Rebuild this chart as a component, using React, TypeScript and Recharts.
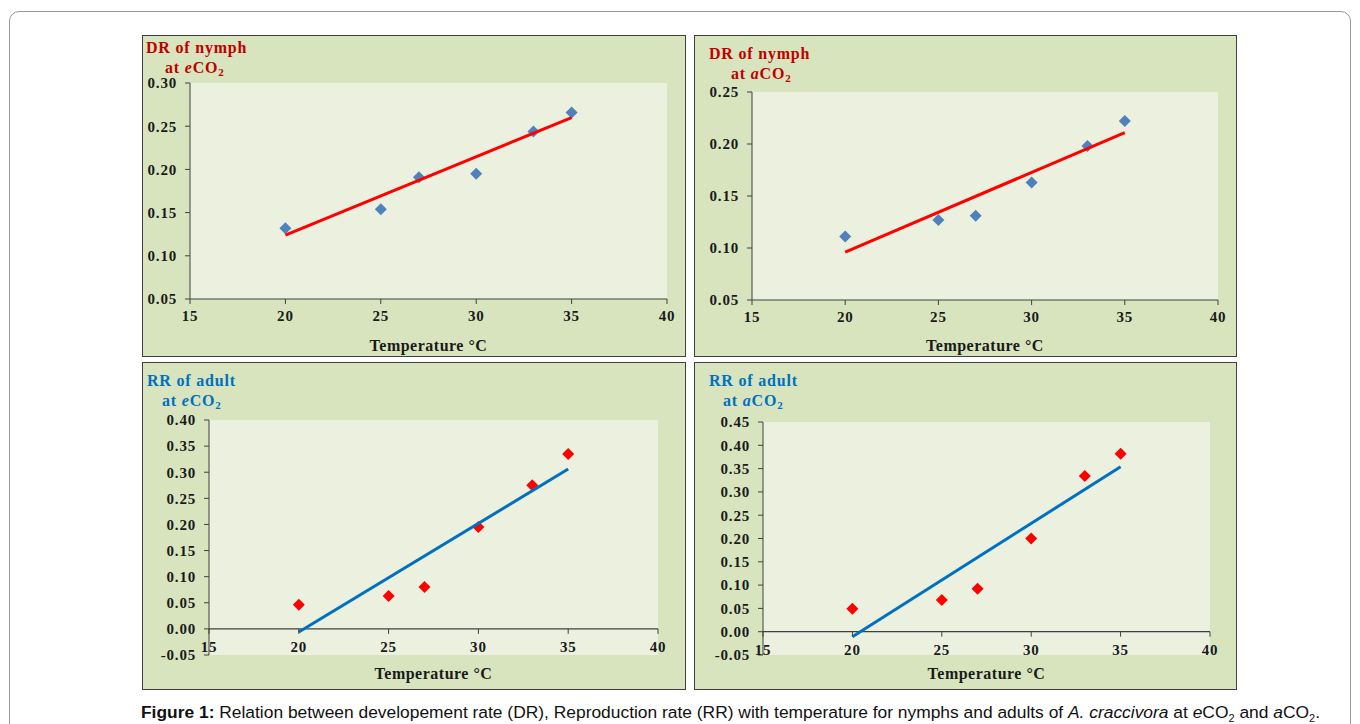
import { ScatterChart, Scatter, XAxis, YAxis, CartesianGrid, ReferenceLine } from 'recharts';

// temperatures (°C) where rates were measured
const temps = [20, 25, 27, 30, 33, 35];
const drElevated = [0.132, 0.154, 0.191, 0.195, 0.244, 0.266];
const drAmbient = [0.111, 0.127, 0.131, 0.163, 0.198, 0.222];
const rrElevated = [0.046, 0.063, 0.08, 0.195, 0.275, 0.335];
const rrAmbient = [0.049, 0.068, 0.092, 0.2, 0.334, 0.382];
// linear trend end points
const trendTemps = [20, 35];
const drElevatedFit = [0.124, 0.26];
const drAmbientFit = [0.096, 0.211];
const rrElevatedFit = [-0.006, 0.306];
const rrAmbientFit = [-0.011, 0.354];
// axis ticks
const tempTicks = [15, 20, 25, 30, 35, 40];
const drElevatedTicks = [0.05, 0.1, 0.15, 0.2, 0.25, 0.3];
const drAmbientTicks = [0.05, 0.1, 0.15, 0.2, 0.25];
const rrElevatedTicks = [-0.05, 0, 0.05, 0.1, 0.15, 0.2, 0.25, 0.3, 0.35, 0.4];
const rrAmbientTicks = [-0.05, 0, 0.05, 0.1, 0.15, 0.2, 0.25, 0.3, 0.35, 0.4, 0.45];

const toPoints = (xs: number[], ys: number[]) => xs.map((x, i) => ({ x, y: ys[i] }));

const FONT = '"Liberation Serif", "Times New Roman", serif';
const AXIS = '#404040';

function diamond(color: string) {
  return (props: any) => {
    const { cx, cy } = props;
    const r = 6;
    return (
      <polygon
        points={`${cx},${cy - r} ${cx + r},${cy} ${cx},${cy + r} ${cx - r},${cy}`}
        fill={color}
      />
    );
  };
}

// x ticks for charts where the axis crosses at y = 0
function zeroTick(shift: number) {
  return (props: any) => {
    const { x, y, payload } = props;
    const y0 = y - shift;
    return (
      <g>
        <line x1={x} x2={x} y1={y0} y2={y0 + 5} stroke={AXIS} />
        <text
          x={x}
          y={y0 + 18}
          textAnchor="middle"
          dominantBaseline="central"
          fontFamily={FONT}
          fontWeight="bold"
          fontSize={15}
          letterSpacing={0.8}
          fill="#1a1a1a"
        >
          {payload.value}
        </text>
      </g>
    );
  };
}

interface PanelProps {
  left: number;
  top: number;
  width: number;
  height: number;
  title: string;
  medium: string;
  titleColor: string;
  titleLeft: number;
  titleTop: number;
  indent: number;
  points: { x: number; y: number }[];
  fit: { x: number; y: number }[];
  pointColor: string;
  lineColor: string;
  domain: [number, number];
  yTicks: number[];
  margin: { top: number; right: number };
  yWidth: number;
  xHeight: number;
  labelOffset: number;
  crossAtZero?: boolean;
}

function Panel(p: PanelProps) {
  const chartW = p.width - 2;
  const chartH = p.height - 2;
  const plotH = chartH - p.margin.top - p.xHeight;
  const shift = (plotH * (0 - p.domain[0])) / (p.domain[1] - p.domain[0]);
  const tickStyle = {
    fontFamily: FONT,
    fontWeight: 'bold' as const,
    fontSize: 15,
    fill: '#1a1a1a',
    letterSpacing: 0.8,
  };

  return (
    <div
      style={{
        position: 'absolute',
        left: p.left,
        top: p.top,
        width: p.width,
        height: p.height,
        boxSizing: 'border-box',
        border: `1px solid ${AXIS}`,
        backgroundColor: '#d7e4bd',
      }}
    >
      <div
        style={{
          position: 'absolute',
          left: p.titleLeft,
          top: p.titleTop,
          color: p.titleColor,
          fontFamily: FONT,
          fontWeight: 'bold',
          fontSize: 16,
          letterSpacing: 0.8,
          lineHeight: '20px',
          whiteSpace: 'nowrap',
        }}
      >
        <div>{p.title}</div>
        <div style={{ paddingLeft: p.indent }}>
          at <i>{p.medium}</i>CO<sub style={{ fontSize: 11, verticalAlign: -3 }}>2</sub>
        </div>
      </div>
      <div style={{ position: 'absolute', left: 0, top: 0 }}>
        <ScatterChart
          width={chartW}
          height={chartH}
          margin={{ top: p.margin.top, right: p.margin.right, bottom: 0, left: 0 }}
        >
          <CartesianGrid fill="#ebf1de" horizontal={false} vertical={false} stroke="none" />
          <XAxis
            type="number"
            dataKey="x"
            domain={[15, 40]}
            ticks={tempTicks}
            height={p.xHeight}
            axisLine={p.crossAtZero ? false : { stroke: AXIS }}
            tickLine={p.crossAtZero ? false : { stroke: AXIS }}
            tickSize={p.crossAtZero ? 0 : 5}
            tickMargin={p.crossAtZero ? 0 : 6}
            tick={p.crossAtZero ? zeroTick(shift) : tickStyle}
            label={{
              value: 'Temperature °C',
              position: 'insideBottom',
              offset: p.labelOffset,
              style: {
                fontFamily: FONT,
                fontWeight: 'bold',
                fontSize: 16,
                letterSpacing: 0.5,
                fill: '#1a1a1a',
              },
            }}
          />
          <YAxis
            type="number"
            dataKey="y"
            domain={p.domain}
            ticks={p.yTicks}
            width={p.yWidth}
            axisLine={{ stroke: AXIS }}
            tickLine={{ stroke: AXIS }}
            tickSize={5}
            tickMargin={8}
            tick={tickStyle}
            tickFormatter={(v: number) => v.toFixed(2)}
            interval={0}
          />
          {p.crossAtZero && <ReferenceLine y={0} stroke={AXIS} strokeWidth={1.2} />}
          <Scatter data={p.points} shape={diamond(p.pointColor)} isAnimationActive={false} />
          <Scatter
            data={p.fit}
            line={{ stroke: p.lineColor, strokeWidth: 3 }}
            shape={() => <g />}
            isAnimationActive={false}
          />
        </ScatterChart>
      </div>
    </div>
  );
}

export default function App() {
  return (
    <div
      style={{
        position: 'absolute',
        left: 0,
        top: 0,
        width: 1360,
        height: 724,
        background: '#fff',
        overflow: 'hidden',
      }}
    >
      <div
        style={{
          position: 'absolute',
          left: 9,
          top: 11,
          width: 1342,
          height: 740,
          border: '1px solid #9a9a9a',
          borderRadius: 10,
          boxSizing: 'border-box',
        }}
      />
      <Panel
        left={142}
        top={35}
        width={544}
        height={322}
        title="DR of nymph"
        medium="e"
        titleColor="#c00000"
        titleLeft={3}
        titleTop={2}
        indent={19}
        points={toPoints(temps, drElevated)}
        fit={toPoints(trendTemps, drElevatedFit)}
        pointColor="#4f81bd"
        lineColor="#ff0000"
        domain={[0.05, 0.3]}
        yTicks={drElevatedTicks}
        margin={{ top: 47, right: 18 }}
        yWidth={47}
        xHeight={57}
        labelOffset={5}
      />
      <Panel
        left={694}
        top={35}
        width={543}
        height={322}
        title="DR of nymph"
        medium="a"
        titleColor="#c00000"
        titleLeft={14}
        titleTop={8}
        indent={22}
        points={toPoints(temps, drAmbient)}
        fit={toPoints(trendTemps, drAmbientFit)}
        pointColor="#4f81bd"
        lineColor="#ff0000"
        domain={[0.05, 0.25]}
        yTicks={drAmbientTicks}
        margin={{ top: 56, right: 18 }}
        yWidth={57}
        xHeight={56}
        labelOffset={5}
      />
      <Panel
        left={142}
        top={362}
        width={544}
        height={328}
        title="RR of adult"
        medium="e"
        titleColor="#0070c0"
        titleLeft={4}
        titleTop={8}
        indent={15}
        points={toPoints(temps, rrElevated)}
        fit={toPoints(trendTemps, rrElevatedFit)}
        pointColor="#ff0000"
        lineColor="#0070c0"
        domain={[-0.05, 0.4]}
        yTicks={rrElevatedTicks}
        margin={{ top: 57, right: 27 }}
        yWidth={66}
        xHeight={34}
        labelOffset={10}
        crossAtZero
      />
      <Panel
        left={694}
        top={362}
        width={543}
        height={328}
        title="RR of adult"
        medium="a"
        titleColor="#0070c0"
        titleLeft={14}
        titleTop={8}
        indent={14}
        points={toPoints(temps, rrAmbient)}
        fit={toPoints(trendTemps, rrAmbientFit)}
        pointColor="#ff0000"
        lineColor="#0070c0"
        domain={[-0.05, 0.45]}
        yTicks={rrAmbientTicks}
        margin={{ top: 59, right: 26 }}
        yWidth={68}
        xHeight={34}
        labelOffset={10}
        crossAtZero
      />
      <div
        style={{
          position: 'absolute',
          left: 141,
          top: 702,
          fontFamily: '"Liberation Sans Narrow", "Liberation Sans", Arial, sans-serif',
          fontSize: 17.4,
          color: '#111',
          whiteSpace: 'nowrap',
        }}
      >
        <b>Figure 1:</b> Relation between developement rate (DR), Reproduction rate (RR) with temperature for
        nymphs and adults of <i>A. craccivora</i> at <i>e</i>CO<sub style={{ fontSize: 11 }}>2</sub> and{' '}
        <i>a</i>CO<sub style={{ fontSize: 11 }}>2</sub>.
      </div>
    </div>
  );
}
